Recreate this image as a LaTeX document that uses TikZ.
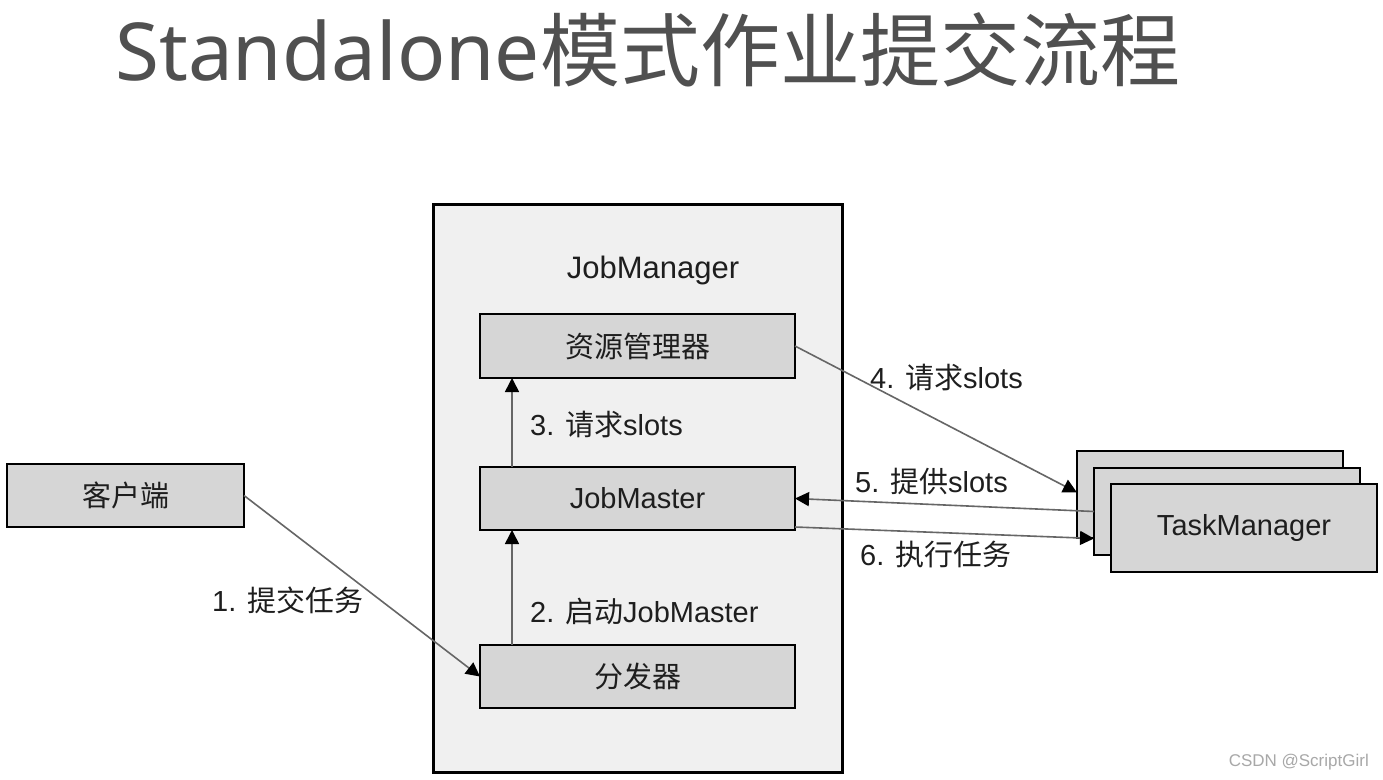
\documentclass[tikz,border=0pt]{standalone}
\usepackage{fontspec}
\setmainfont{Liberation Sans}
\newfontfamily\cjk{Noto Sans CJK SC}
\newfontfamily\titlelatin{Noto Sans}
\usetikzlibrary{arrows.meta,calc}
\definecolor{outerfill}{HTML}{F0F0F0}
\definecolor{boxfill}{HTML}{D6D6D6}
\definecolor{arrowgray}{HTML}{666666}
\definecolor{titlegray}{HTML}{505050}
\definecolor{textdark}{HTML}{1E1E1E}
\definecolor{wmgray}{HTML}{A8A8A8}
\tikzset{
  outerbox/.style={draw=black, line width=3pt, fill=outerfill, inner sep=0pt, outer sep=0pt},
  box/.style={draw=black, line width=2.5pt, fill=boxfill, inner sep=0pt, outer sep=0pt, text=textdark, font=\fontsize{29}{33}\selectfont},
  conn/.style={draw=arrowgray, line width=1.6pt, -{Triangle[length=14pt,width=14pt,fill=black,color=black]}},
  lbl/.style={anchor=west, inner sep=0pt, text=textdark, font=\fontsize{29}{33}\selectfont},
}
\begin{document}
\begin{tikzpicture}[x=1pt,y=-1pt]
\useasboundingbox[fill=white] (0,0) rectangle (1383,779);
% title
\node[anchor=west, inner sep=0pt, text=titlegray, font=\fontsize{80}{90}\selectfont] (title) at (115,50) {{\titlelatin Standalone}{\cjk 模式作业提交流程}};
% JobManager container
\node[outerbox, minimum width=409pt, minimum height=568pt] (jmgr) at (637.5,488) {};
\node[inner sep=0pt, text=textdark, font=\fontsize{31}{35}\selectfont] (jmgrlabel) at (653,270) {JobManager};
% inner boxes
\node[box, minimum width=315pt, minimum height=64pt] (zy) at (637.5,346) {\cjk 资源管理器};
\node[box, minimum width=315pt, minimum height=63pt] (jm) at (637.5,498.5) {JobMaster};
\node[box, minimum width=315pt, minimum height=63pt] (ff) at (637.5,676.5) {\cjk 分发器};
% client
\node[box, minimum width=237pt, minimum height=63pt] (kh) at (125.5,495.5) {\cjk 客户端};
% TaskManager stack
\node[box, minimum width=266pt, minimum height=87pt] (tm1) at (1210,494.5) {};
\node[box, minimum width=266pt, minimum height=87pt] (tm2) at (1227,511.5) {};
\node[box, minimum width=266pt, minimum height=88pt] (tm3) at (1244,528) {\raisebox{-2pt}{TaskManager}};
% connectors
\draw[conn] (kh.east) -- (ff.west);
\draw[conn] ($(ff.north west)+(32,0)$) -- ($(jm.south west)+(32,0)$);
\draw[conn] ($(jm.north west)+(32,0)$) -- ($(zy.south west)+(32,0)$);
\draw[conn] (zy.east) -- ($(tm1.west)+(0,-2)$);
\draw[conn] (tm2.west) -- (jm.east);
\draw[conn] ($(jm.south east)+(0,-3)$) -- ($(tm2.west)+(0,27)$);
% labels
\node[lbl] (l1) at (212,600) {1. {\cjk 提交任务}};
\node[lbl] (l2) at (530,611) {2. {\cjk 启动}JobMaster};
\node[lbl] (l3) at (530,425) {3. {\cjk 请求}slots};
\node[lbl] (l4) at (870,378) {4. {\cjk 请求}slots};
\node[lbl] (l5) at (855,481) {5. {\cjk 提供}slots};
\node[lbl] (l6) at (860,555) {6. {\cjk 执行任务}};
% watermark
\node[anchor=east, inner sep=0pt, text=wmgray, font=\fontsize{17}{19}\selectfont] (wm) at (1369,762) {CSDN @ScriptGirl};
\end{tikzpicture}
\end{document}
